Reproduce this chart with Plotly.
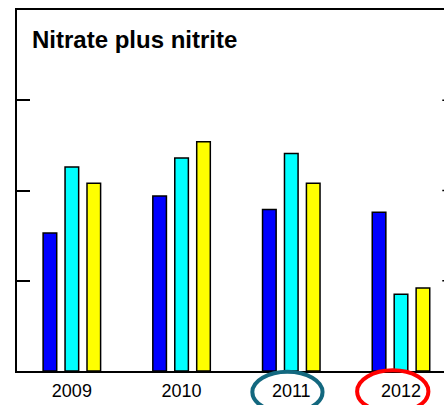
import plotly.graph_objects as go

# Data
years = ["2009", "2010", "2011", "2012"]
series_blue = [1.53, 1.94, 1.79, 1.76]
series_cyan = [2.26, 2.36, 2.41, 0.85]
series_yellow = [2.08, 2.54, 2.08, 0.92]
y_ticks = [0, 1, 2, 3, 4]

COLORS = ["#0000FF", "#00FFFF", "#FFFF00"]

fig = go.Figure()
for vals, color in zip([series_blue, series_cyan, series_yellow], COLORS):
    fig.add_trace(go.Bar(
        x=years, y=vals,
        marker=dict(color=color, line=dict(color="#000000", width=1.5)),
        showlegend=False,
    ))

# title inside the frame
fig.add_annotation(
    text="<b>Nitrate plus nitrite</b>",
    xref="paper", yref="paper", x=0.031, y=0.917,
    xanchor="left", yanchor="middle", showarrow=False,
    font=dict(family="Liberation Sans, Arial, sans-serif", size=24, color="#000000"),
)

# circled year labels
fig.add_shape(type="circle", xref="x", yref="paper",
              x0=1.645, x1=2.285, y0=-0.115, y1=-0.002,
              line=dict(color="#13687F", width=4))
fig.add_shape(type="circle", xref="x", yref="paper",
              x0=2.60, x1=3.25, y0=-0.115, y1=0.002,
              line=dict(color="#FF0000", width=4))

# small mirrored ticks at the right edge
for yv in y_ticks[1:-1]:
    fig.add_shape(type="line", xref="paper", yref="y",
                  x0=0.996, x1=1.0, y0=yv, y1=yv,
                  line=dict(color="#000000", width=1.5))

fig.update_xaxes(
    range=[-0.5, 3.392],
    showline=True, linecolor="#000000", linewidth=1.5, mirror=True,
    ticks="", showgrid=False, ticklabelstandoff=3,
    tickfont=dict(family="Liberation Sans, Arial, sans-serif", size=18, color="#000000"),
)
fig.update_yaxes(
    range=[0, 4], tickvals=y_ticks, showticklabels=False,
    showline=True, linecolor="#000000", linewidth=1.5,
    ticks="inside", ticklen=13, tickwidth=1.5, tickcolor="#000000",
    showgrid=False, zeroline=False,
)

fig.update_layout(
    width=444, height=405,
    margin=dict(l=17, r=0, t=10, b=34, pad=0),
    barmode="group", bargap=0.4, bargroupgap=0.38,
    plot_bgcolor="#FFFFFF", paper_bgcolor="#FFFFFF",
)

# drop the default page margin so the figure sits at the window's corner
fig.write_html("out.html", config={"displayModeBar": False},
               post_script="document.body.style.margin='0';")
